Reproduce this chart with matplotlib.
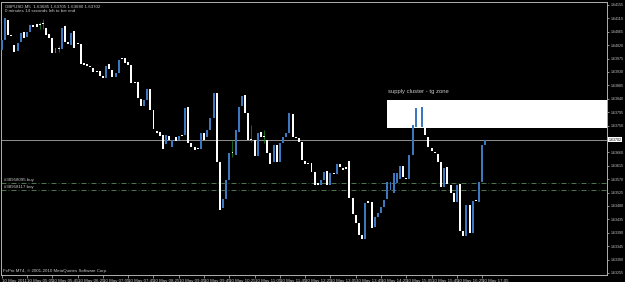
import matplotlib
matplotlib.use("Agg")
import matplotlib.pyplot as plt
from matplotlib.patches import Rectangle
import matplotlib.transforms as mtransforms

# ---- data (GBPUSD, M5) ----
opens = [
    1.64004, 1.64037, 1.64105, 1.64051, 1.64021, 1.64000, 1.64031, 1.64064, 1.64048, 1.64064,
    1.64088, 1.64091, 1.64088, 1.64091, 1.64078, 1.64058, 1.64044, 1.63994, 1.64007, 1.64007,
    1.64085, 1.64031, 1.64021, 1.64068, 1.64024, 1.64024, 1.63960, 1.63957, 1.63950, 1.63943,
    1.63933, 1.63933, 1.63917, 1.63910, 1.63957, 1.63937, 1.63913, 1.63927, 1.63977, 1.63977,
    1.63964, 1.63954, 1.63896, 1.63896, 1.63839, 1.63816, 1.63836, 1.63873, 1.63802, 1.63732,
    1.63728, 1.63718, 1.63688, 1.63715, 1.63678, 1.63712, 1.63702, 1.63718, 1.63718, 1.63812,
    1.63691, 1.63678, 1.63671, 1.63671, 1.63725, 1.63712, 1.63735, 1.63775, 1.63859, 1.63628,
    1.63473, 1.63503, 1.63567, 1.63658, 1.63651, 1.63728, 1.63816, 1.63853, 1.63792, 1.63702,
    1.63702, 1.63648, 1.63728, 1.63712, 1.63702, 1.63658, 1.63628, 1.63685, 1.63628, 1.63691,
    1.63712, 1.63725, 1.63789, 1.63712, 1.63708, 1.63695, 1.63631, 1.63621, 1.63624, 1.63594,
    1.63557, 1.63550, 1.63567, 1.63597, 1.63550, 1.63591, 1.63587, 1.63621, 1.63607, 1.63611,
    1.63631, 1.63507, 1.63450, 1.63423, 1.63382, 1.63369, 1.63497, 1.63493, 1.63409, 1.63443,
    1.63456, 1.63476, 1.63503, 1.63534, 1.63523, 1.63557, 1.63571, 1.63614, 1.63574, 1.63571,
    1.63651, 1.63745, 1.63809, 1.63745, 1.63812, 1.63712, 1.63675, 1.63661, 1.63654, 1.63628,
    1.63544, 1.63611, 1.63550, 1.63523, 1.63493, 1.63554, 1.63396, 1.63379, 1.63483, 1.63389,
    1.63497, 1.63493, 1.63560, 1.63685,
]
closes = [
    1.64037, 1.64111, 1.64054, 1.64051, 1.63997, 1.64027, 1.64061, 1.64044, 1.64064, 1.64088,
    1.64081, 1.64081, 1.64088, 1.64091, 1.64054, 1.64044, 1.63994, 1.64010, 1.64007, 1.64078,
    1.64031, 1.64024, 1.64061, 1.64010, 1.64024, 1.63957, 1.63954, 1.63950, 1.63947, 1.63930,
    1.63930, 1.63917, 1.63910, 1.63950, 1.63940, 1.63913, 1.63927, 1.63970, 1.63974, 1.63960,
    1.63954, 1.63893, 1.63893, 1.63843, 1.63816, 1.63836, 1.63873, 1.63802, 1.63739, 1.63725,
    1.63715, 1.63671, 1.63718, 1.63702, 1.63702, 1.63698, 1.63715, 1.63715, 1.63809, 1.63691,
    1.63678, 1.63668, 1.63671, 1.63725, 1.63702, 1.63735, 1.63775, 1.63859, 1.63628, 1.63466,
    1.63503, 1.63567, 1.63658, 1.63658, 1.63735, 1.63812, 1.63849, 1.63792, 1.63702, 1.63702,
    1.63648, 1.63725, 1.63712, 1.63712, 1.63658, 1.63621, 1.63685, 1.63628, 1.63691, 1.63712,
    1.63725, 1.63792, 1.63712, 1.63708, 1.63695, 1.63634, 1.63621, 1.63621, 1.63594, 1.63550,
    1.63550, 1.63567, 1.63594, 1.63550, 1.63591, 1.63587, 1.63621, 1.63611, 1.63601, 1.63604,
    1.63507, 1.63453, 1.63423, 1.63382, 1.63369, 1.63490, 1.63490, 1.63406, 1.63443, 1.63456,
    1.63476, 1.63500, 1.63560, 1.63560, 1.63591, 1.63591, 1.63614, 1.63577, 1.63571, 1.63651,
    1.63752, 1.63809, 1.63742, 1.63812, 1.63718, 1.63678, 1.63664, 1.63658, 1.63628, 1.63544,
    1.63607, 1.63554, 1.63523, 1.63493, 1.63550, 1.63396, 1.63379, 1.63483, 1.63389, 1.63497,
    1.63497, 1.63560, 1.63685, 1.63702,
]
# bars whose shadows stick out visibly: index -> (high, low)
shadows = {
    12: (1.64098, 1.64074),
    13: (1.64108, 1.64074),
    18: (1.64017, 1.63997),
    73: (1.63702, 1.63644),
    79: (1.63752, 1.63695),
    83: (1.63735, 1.63691),
}

time_labels = [
    "10 May 2011", "10 May 05:05", "10 May 05:45", "10 May 06:25", "10 May 07:05",
    "10 May 07:45", "10 May 08:25", "10 May 09:05", "10 May 09:45", "10 May 10:25",
    "10 May 11:05", "10 May 11:45", "10 May 12:25", "10 May 13:05", "10 May 13:45",
    "10 May 14:25", "10 May 15:05", "10 May 15:45", "10 May 16:25", "10 May 17:05",
]
price_ticks = [1.64155 - 0.00045 * k for k in range(21)]

zone_top = 1.63836
zone_bottom = 1.63742
zone_start = 121.8
zone_label = "supply cluster - tg zone"

buy_orders = [("#38958095 buy", 1.63557), ("#38958117 buy", 1.63534)]

header_1 = "GBPUSD,M5  1.63685 1.63705 1.63680 1.63702"
header_2 = "0 minutes 14 seconds left to bar end"
footer = "FxPro MT4, \u00a9 2001-2010 MetaQuotes Software Corp."

BULL = "#3b78c0"
BEAR = "#ffffff"
WICK = "#1f7a1f"
FG = "#c8c8c8"
FONT = ["Liberation Sans Narrow", "Liberation Sans", "DejaVu Sans"]
FS = 3.2
FS_PRICE = 2.6

fig = plt.figure(figsize=(6.25, 2.82), dpi=100, facecolor="black")
ax = fig.add_axes([1 / 625, 7 / 282, 606 / 625, 273 / 282], facecolor="black")

n = len(opens)
xs = list(range(n))
x_max = 191.5
y_lo, y_hi = 1.63248, 1.64165

# zone rectangle, behind the candles
ax.add_patch(Rectangle((zone_start, zone_bottom), x_max - zone_start + 2,
                       zone_top - zone_bottom, facecolor="white",
                       edgecolor="none", zorder=1))
ax.text(zone_start + 0.5, 1.63856, zone_label, color=FG, fontsize=4.2,
        family=FONT, va="bottom", ha="left", zorder=5)

# shadows
for i, (hi, lo) in shadows.items():
    ax.vlines(i, lo, hi, color=WICK, linewidth=0.6, zorder=3)

# bodies
min_h = 0.00004
bottoms = [min(o, c) for o, c in zip(opens, closes)]
heights = [max(abs(c - o), min_h) for o, c in zip(opens, closes)]
colors = [BULL if c > o else BEAR for o, c in zip(opens, closes)]
ax.bar(xs, heights, bottom=bottoms, width=0.62, color=colors,
       edgecolor="none", zorder=4)

# current price line
last = closes[-1]
ax.axhline(last, color="#a8a8a8", linewidth=0.6, zorder=2)

# open orders
for label, price in buy_orders:
    ax.axhline(price, color="#5c8a5c", linewidth=0.6,
               linestyle=(0, (6, 2.5, 1, 2.5)), zorder=2)
    ax.text(0.8, price + 0.00002, label, color=FG, fontsize=FS, family=FONT,
            va="bottom", ha="left", zorder=5)

# header / footer text
ax.text(0.006, 0.992, header_1, transform=ax.transAxes, color=FG, fontsize=FS,
        family=FONT, va="top", ha="left")
ax.text(0.006, 0.975, header_2, transform=ax.transAxes, color=FG, fontsize=FS,
        family=FONT, va="top", ha="left")
ax.text(0.004, 0.008, footer, transform=ax.transAxes, color=FG, fontsize=FS,
        family=FONT, va="bottom", ha="left")

ax.set_xlim(-0.25, x_max)
ax.set_ylim(y_lo, y_hi)

# price scale on the right (the label under the price box is left out)
shown = [p for p in price_ticks if abs(p - last) > 0.0002]
ax.yaxis.tick_right()
ax.set_yticks(shown)
ax.set_yticklabels([f"{p:.5f}" for p in shown])
ax.tick_params(axis="y", colors=FG, labelsize=FS_PRICE, length=1.5, width=0.5, pad=1)
for lab in ax.get_yticklabels():
    lab.set_family(FONT)

# current price box
trans = mtransforms.blended_transform_factory(ax.transAxes, ax.transData)
ax.text(1.003, last, f"{last:.5f}", transform=trans, color="black",
        fontsize=FS_PRICE, family=FONT, va="center", ha="left",
        bbox=dict(boxstyle="square,pad=0.15", facecolor="white", edgecolor="none"),
        zorder=6, clip_on=False)

# time scale
tick_pos = [8 * k for k in range(len(time_labels))]
ax.set_xticks(tick_pos)
ax.set_xticklabels(time_labels)
ax.tick_params(axis="x", colors=FG, labelsize=FS, length=2, width=0.5, pad=0.6)
for lab in ax.get_xticklabels():
    lab.set_family(FONT)
    lab.set_horizontalalignment("left")

for side in ["left", "right", "top", "bottom"]:
    ax.spines[side].set_color("#b0b0b0")
    ax.spines[side].set_linewidth(0.7)

fig.savefig("out.png", dpi=100, facecolor="black")
